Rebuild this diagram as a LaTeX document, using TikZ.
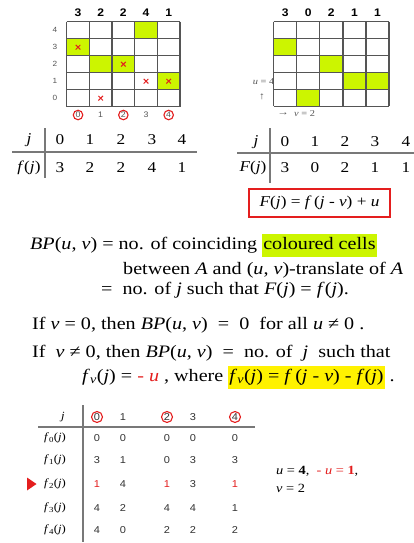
\documentclass[tikz,border=0pt]{standalone}
\usepackage{fontspec}
\usetikzlibrary{calc}
\setmainfont[FakeStretch=1.15]{Liberation Serif}
\newfontfamily\arial[FakeStretch=1.1]{Liberation Sans}
\definecolor{lime}{RGB}{204,245,0}
\definecolor{gridc}{RGB}{85,85,85}
\definecolor{redc}{RGB}{228,30,30}
\definecolor{lgray}{RGB}{120,120,120}
\tikzset{
  gl/.style={draw=gridc, line width=1.3pt},
  tl/.style={draw=lgray, line width=1.2pt},
  collab/.style={font=\arial\bfseries\fontsize{11}{12}\selectfont, inner sep=0pt},
  rowlab/.style={font=\arial\fontsize{7.5}{8}\selectfont, text=gridc, inner sep=0pt},
  botlab/.style={font=\arial\fontsize{8}{9}\selectfont, text=gridc, inner sep=0pt},
  rcirc/.style={draw=redc, line width=1.1pt, circle, minimum size=9.5pt, inner sep=0pt},
  xmark/.style={draw=redc, line width=1pt},
  tabtxt/.style={font=\fontsize{15}{17}\selectfont, inner sep=0pt},
  btxt/.style={font=\fontsize{17.5}{21}\selectfont, inner sep=0pt, anchor=west},
  stab/.style={font=\arial\fontsize{10}{11}\selectfont, inner sep=0pt, text=black!80},
  slab/.style={font=\fontsize{11}{12}\selectfont, inner sep=0pt},
  small/.style={font=\fontsize{12.5}{13}\selectfont, inner sep=0pt, anchor=west},
}
\begin{document}
\begin{tikzpicture}[x=1pt,y=-1pt]
\useasboundingbox[fill=white] (0,0) rectangle (414,543);
% ---------- left grid ----------
\def\LX{66.7}\def\LW{22.66}\def\LY{21.7}\def\LH{17}
\foreach \c/\r in {0/3,1/2,2/2,3/4,4/1}
  \fill[lime] ({\LX+\c*\LW},{\LY+(4-\r)*\LH}) rectangle ++(\LW,\LH);
\foreach \i in {0,...,5} {
  \draw[gl] ({\LX+\i*\LW},\LY) -- ({\LX+\i*\LW},{\LY+5*\LH});
  \draw[gl] (\LX,{\LY+\i*\LH}) -- ({\LX+5*\LW},{\LY+\i*\LH});
}
\foreach \c/\v in {0/3,1/2,2/2,3/4,4/1}
  \node[collab] (lc\c) at ({\LX+(\c+0.5)*\LW},13) {\v};
\foreach \r in {0,...,4}
  \node[rowlab] (lr\r) at (55,{\LY+(4-\r+0.5)*\LH}) {\r};
\foreach \c/\r in {0/3,1/0,2/2,3/1,4/1} {
  \coordinate (xm\c) at ({\LX+(\c+0.5)*\LW},{\LY+(4-\r+0.5)*\LH});
  \draw[xmark] ($(xm\c)+(-2.3,-2.3)$) -- ($(xm\c)+(2.3,2.3)$);
  \draw[xmark] ($(xm\c)+(-2.3,2.3)$) -- ($(xm\c)+(2.3,-2.3)$);
}
\foreach \c in {0,2,4}
  \node[botlab, rcirc] (lb\c) at ({\LX+(\c+0.5)*\LW},115) {\c};
\foreach \c in {1,3}
  \node[botlab] (lb\c) at ({\LX+(\c+0.5)*\LW},115) {\c};
% ---------- right grid ----------
\def\RX{273.7}\def\RW{23.06}\def\RH{16.9}
\foreach \c/\r in {0/3,1/0,2/2,3/1,4/1}
  \fill[lime] ({\RX+\c*\RW},{\LY+(4-\r)*\RH}) rectangle ++(\RW,\RH);
\foreach \i in {0,...,5} {
  \draw[gl] ({\RX+\i*\RW},\LY) -- ({\RX+\i*\RW},{\LY+5*\RH});
  \draw[gl] (\RX,{\LY+\i*\RH}) -- ({\RX+5*\RW},{\LY+\i*\RH});
}
\foreach \c/\v in {0/3,1/0,2/2,3/1,4/1}
  \node[collab] (rc\c) at ({\RX+(\c+0.5)*\RW},13) {\v};
\node[rowlab, anchor=east, font=\fontsize{9}{10}\selectfont] (ulab) at (274.5,81.5) {\textit{u} = 4};
\node[rowlab, font=\fontsize{10}{10}\selectfont] (uarr) at (262,97) {↑};
\node[rowlab, font=\fontsize{10}{10}\selectfont] (varr) at (283,114) {→};
\node[rowlab, anchor=west, font=\fontsize{9}{10}\selectfont] (vlab) at (294,114) {\textit{v} = 2};
% ---------- left table ----------
\node[tabtxt] (tj) at (29,140) {\textit{j}};
\node[tabtxt] (tf) at (29,168) {\textit{f}(\textit{j})};
\foreach \x/\a/\b in {60/0/3,90/1/2,121/2/2,152/3/4,182/4/1} {
  \node[tabtxt] at (\x,140) {\a};
  \node[tabtxt] at (\x,168) {\b};
}
\draw[tl] (45,128) -- (45,178);
\draw[tl] (12,152) -- (197,152);
% ---------- right table ----------
\node[tabtxt] (Tj) at (256,142) {\textit{j}};
\node[tabtxt] (TF) at (253,168) {\textit{F}(\textit{j})};
\foreach \x/\a/\b in {285/0/3,315/1/0,345/2/2,375/3/1,406/4/1} {
  \node[tabtxt] at (\x,142) {\a};
  \node[tabtxt] at (\x,168) {\b};
}
\draw[tl] (270,128) -- (270,183);
\draw[tl] (237,153) -- (414,153);
\node[draw=redc, line width=1.3pt, minimum width=141pt, minimum height=28pt, inner sep=0pt,
      font=\fontsize{15}{17}\selectfont] (Fbox) at (319.5,203)
  {\textit{F}(\textit{j}) = \textit{f}\,(\textit{j} - \textit{v}) + \textit{u}};
% ---------- text ----------
\node[btxt] (l1) at (30,245) {\textit{BP}(\textit{u}, \textit{v}) = no. of coinciding {\setlength{\fboxsep}{1pt}\colorbox{lime}{\strut coloured cells}}};
\node[btxt] (l2) at (123,270) {between \textit{A} and (\textit{u}, \textit{v})-translate of \textit{A}};
\node[btxt] (l3) at (101,290) {=\ \ no. of \textit{j} such that \textit{F}(\textit{j}) = \textit{f}(\textit{j}).};
\node[btxt] (l4) at (32,325) {If \textit{v} = 0, then \textit{BP}(\textit{u}, \textit{v}) \ = \ 0 \ for all \textit{u} ≠ 0 .};
\node[btxt] (l5) at (32,353) {If \ \textit{v} ≠ 0, then \textit{BP}(\textit{u}, \textit{v}) \ = \ no. of \ \textit{j} \ such that};
\node[btxt] (l6) at (82,377) {\textit{f}\textsubscript{\textit{v}}(\textit{j}) = {\color{redc}- \textit{u}} , where {\setlength{\fboxsep}{1pt}\colorbox{yellow}{\strut\textit{f}\textsubscript{\textit{v}}(\textit{j}) = \textit{f}\,(\textit{j} - \textit{v}) - \textit{f}(\textit{j})}} .};
% ---------- bottom table ----------
\node[slab] (bj) at (63,417) {\textit{j}};
\foreach \x/\v in {97/0,167/2,235/4}
  \node[stab, rcirc, minimum size=11pt] (bh\v) at (\x,417) {\v};
\foreach \x/\v in {123/1,193/3}
  \node[stab] (bh\v) at (\x,417) {\v};
\foreach \k/\y in {0/438,1/460,2/484,3/508,4/530}
  \node[slab] (bf\k) at (55,\y) {\textit{f}\textsubscript{\k}(\textit{j})};
\foreach \x/\v in {97/0,123/0,167/0,193/0,235/0} \node[stab] at (\x,438) {\v};
\foreach \x/\v in {97/3,123/1,167/0,193/3,235/3} \node[stab] at (\x,460) {\v};
\foreach \x/\v in {97/1,167/1,235/1} \node[stab, text=redc] at (\x,484) {\v};
\foreach \x/\v in {123/4,193/3} \node[stab] at (\x,484) {\v};
\foreach \x/\v in {97/4,123/2,167/4,193/4,235/1} \node[stab] at (\x,508) {\v};
\foreach \x/\v in {97/4,123/0,167/2,193/2,235/2} \node[stab] at (\x,530) {\v};
\draw[tl] (83,405) -- (83,542);
\draw[tl] (38,427) -- (255,427);
\fill[redc] (27,477.5) -- (36.5,484) -- (27,490.5) -- cycle;
\node[small] (ueq) at (276,471) {\textit{u} = \textbf{4}, \ {\color{redc}- \textit{u} = \textbf{1}},};
\node[small] (veq) at (276,488) {\textit{v} = 2};
\end{tikzpicture}
\end{document}
